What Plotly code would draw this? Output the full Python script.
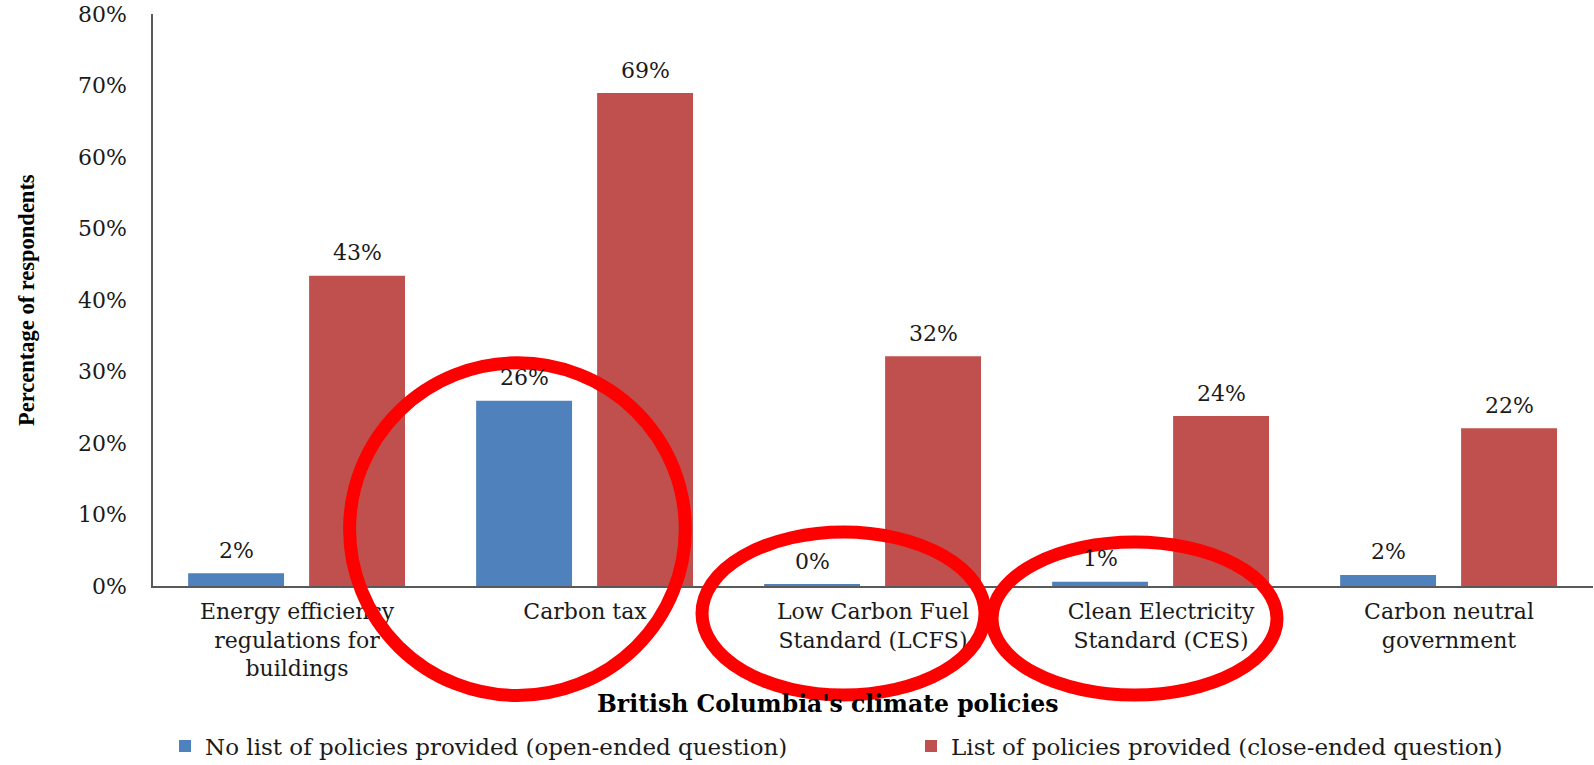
import plotly.graph_objects as go

# ---- data -----------------------------------------------------------------
categories = [
    "Energy efficiency<br>regulations for<br>buildings",
    "Carbon tax",
    "Low Carbon Fuel<br>Standard (LCFS)",
    "Clean Electricity<br>Standard (CES)",
    "Carbon neutral<br>government",
]
open_ended = [0.018, 0.259, 0.0024, 0.006, 0.0154]      # no list provided
close_ended = [0.434, 0.6895, 0.3214, 0.2376, 0.2206]   # list provided
series_names = [
    "No list of policies provided (open-ended question)",
    "List of policies provided (close-ended question)",
]
y_tick_values = [0, 0.1, 0.2, 0.3, 0.4, 0.5, 0.6, 0.7, 0.8]

# ---- styling --------------------------------------------------------------
W, H = 1594, 765
M_L, M_R, M_T, M_B = 153, 1, 14, 179
PLOT_W = W - M_L - M_R
PLOT_H = H - M_T - M_B

BLUE = "#4F81BD"
RED = "#C0504D"
RING = "#FF0000"
TEXT_FONT = "DejaVu Serif"
TITLE_FONT = "Liberation Serif"
INK = "#1a1a1a"

BAR_W = 0.333
OFFSETS = [-0.378, 0.042]


def px_x(px):
    return (px - M_L) / PLOT_W


def px_y(py):
    return (H - M_B - py) / PLOT_H


fig = go.Figure()
for vals, name, color, off, leg in zip([open_ended, close_ended], series_names,
                                       [BLUE, RED], OFFSETS,
                                       ["legend", "legend2"]):
    fig.add_trace(go.Bar(
        x=categories, y=vals, name=name,
        width=BAR_W, offset=off, legend=leg,
        marker=dict(color=color, line=dict(width=0)),
    ))

# value labels above each bar
annotations = []
for vals, off in zip([open_ended, close_ended], OFFSETS):
    for i, v in enumerate(vals):
        annotations.append(dict(
            x=i + off + BAR_W / 2, y=v, xref="x", yref="y",
            text=f"{v:.0%}", showarrow=False,
            xanchor="center", yanchor="middle", yshift=23,
            font=dict(family=TEXT_FONT, size=22, color=INK),
        ))

# axis titles
annotations.append(dict(
    x=px_x(26), y=0.5, xref="paper", yref="paper",
    xanchor="center", yanchor="middle",
    text="<b>Percentage of respondents</b>", textangle=-90, showarrow=False,
    font=dict(family=TITLE_FONT, size=22.5, color="#000000"),
))
annotations.append(dict(
    x=px_x(828), y=px_y(704), xref="paper", yref="paper",
    xanchor="center", yanchor="middle",
    text="<b>British Columbia's climate policies</b>", showarrow=False,
    font=dict(family=TEXT_FONT, size=23.5, color="#000000"),
))

# highlight rings
rings = [
    (349.6, 362.8, 685.3, 695.5),
    (702, 532, 985, 695),
    (992, 542, 1277, 695),
]
shapes = []
for x0, y0, x1, y1 in rings:
    shapes.append(dict(
        type="circle", xref="paper", yref="paper",
        x0=px_x(x0), x1=px_x(x1), y0=px_y(y1), y1=px_y(y0),
        line=dict(color=RING, width=13), fillcolor="rgba(0,0,0,0)",
        layer="above",
    ))

legend_style = dict(
    orientation="h", xanchor="left", yanchor="middle", y=px_y(746),
    font=dict(family=TEXT_FONT, size=23, color=INK),
    bgcolor="rgba(0,0,0,0)",
)

fig.update_layout(
    width=W, height=H,
    margin=dict(l=M_L, r=M_R, t=M_T, b=M_B, autoexpand=False),
    paper_bgcolor="white", plot_bgcolor="white",
    barmode="overlay",
    font=dict(family=TEXT_FONT, size=22, color=INK),
    showlegend=True,
    legend=dict(x=px_x(165), **legend_style),
    legend2=dict(x=px_x(911), **legend_style),
    annotations=annotations,
    shapes=shapes,
)

fig.update_xaxes(
    showline=True, linecolor="#595959", linewidth=1.5,
    showgrid=False, ticks="", ticklabelstandoff=5,
    tickfont=dict(family=TEXT_FONT, size=22, color=INK),
    range=[-0.5, 4.5],
)
fig.update_yaxes(
    range=[0, 0.8], tickvals=y_tick_values, tickformat=".0%",
    showline=True, linecolor="#595959", linewidth=1.5,
    showgrid=False, zeroline=False, ticks="", ticklabelstandoff=20,
    tickfont=dict(family=TEXT_FONT, size=22, color=INK),
)

fig.write_html("out.html")
